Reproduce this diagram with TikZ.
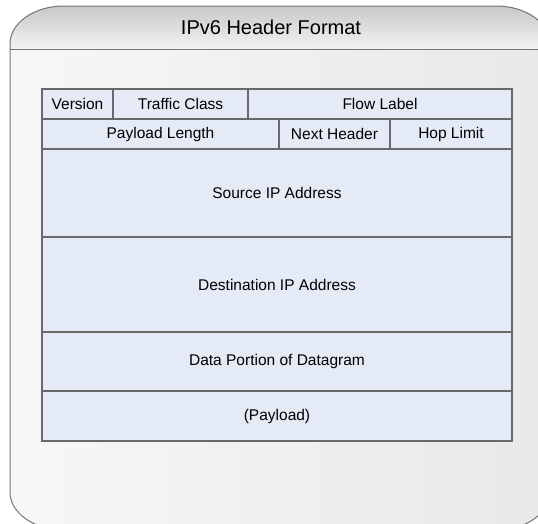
\documentclass[tikz,border=0pt]{standalone}
\usepackage{fontspec}
\setmainfont{Liberation Sans}

\definecolor{cellblue}{RGB}{228,234,246}
\definecolor{cellline}{RGB}{105,105,108}
\definecolor{framegray}{RGB}{118,118,118}
\definecolor{bandtop}{RGB}{200,200,200}
\definecolor{bandbot}{RGB}{243,243,243}
\definecolor{bodyleft}{RGB}{247,247,247}
\definecolor{bodyright}{RGB}{232,232,232}

\begin{document}
\begin{tikzpicture}[x=1pt, y=-1pt, font=\fontsize{15.5}{18}\selectfont]
  \useasboundingbox (0,0) rectangle (538,523);
  \clip (0,0) rectangle (538,523);
            \tikzset{hcell/.style={rectangle, draw=cellline, fill=cellblue, line width=1.1pt,
                inner sep=0pt, outer sep=0pt, text centered}}

        % frame: title band and body
        \fill[top color=bandtop, bottom color=bandbot] (10,49) -- (10,44) .. controls (10,23) and (34,6) .. (64,6)
            -- (496,6) .. controls (526,6) and (550,23) .. (550,44) -- (550,49) -- cycle;
        \fill[left color=bodyleft, right color=bodyright] (10,49) -- (550,49) -- (550,492)
            .. controls (550,513) and (526,530) .. (496,530) -- (64,530) .. controls (34,530) and (10,513) .. (10,492) -- cycle;
        \draw[framegray, line width=1pt] (10,44) .. controls (10,23) and (34,6) .. (64,6)
            -- (496,6) .. controls (526,6) and (550,23) .. (550,44) -- (550,492)
            .. controls (550,513) and (526,530) .. (496,530) -- (64,530) .. controls (34,530) and (10,513) .. (10,492) -- cycle;
        \draw[framegray, line width=1pt] (10,49) -- (550,49);

        \node[font=\fontsize{20}{24}\selectfont] (title) at (271,27) {IPv6 Header Format};

        \node[hcell, minimum width=71pt, minimum height=30pt] (ver) at (77.5,104) {Version};
        \node[hcell, minimum width=135pt, minimum height=30pt] (tc) at (180.5,104) {Traffic Class};
        \node[hcell, minimum width=264pt, minimum height=30pt] (flow) at (380,104) {Flow Label};

        \node[hcell, minimum width=237pt, minimum height=30pt] (plen) at (160.5,134) {Payload Length};
        \node[hcell, minimum width=111pt, minimum height=30pt] (next) at (334.5,134) {Next Header};
        \node[hcell, minimum width=122pt, minimum height=30pt] (hop) at (451,134) {Hop Limit};

        \node[hcell, minimum width=470pt, minimum height=88pt] (src) at (277,193) {Source IP Address};
        \node[hcell, minimum width=470pt, minimum height=95pt] (dst) at (277,284.5) {Destination IP Address};
        \node[hcell, minimum width=470pt, minimum height=59pt] (data) at (277,361.5) {Data Portion of Datagram};
        \node[hcell, minimum width=470pt, minimum height=50pt] (pay) at (277,416) {(Payload)};

        \end{tikzpicture}
\end{document}
